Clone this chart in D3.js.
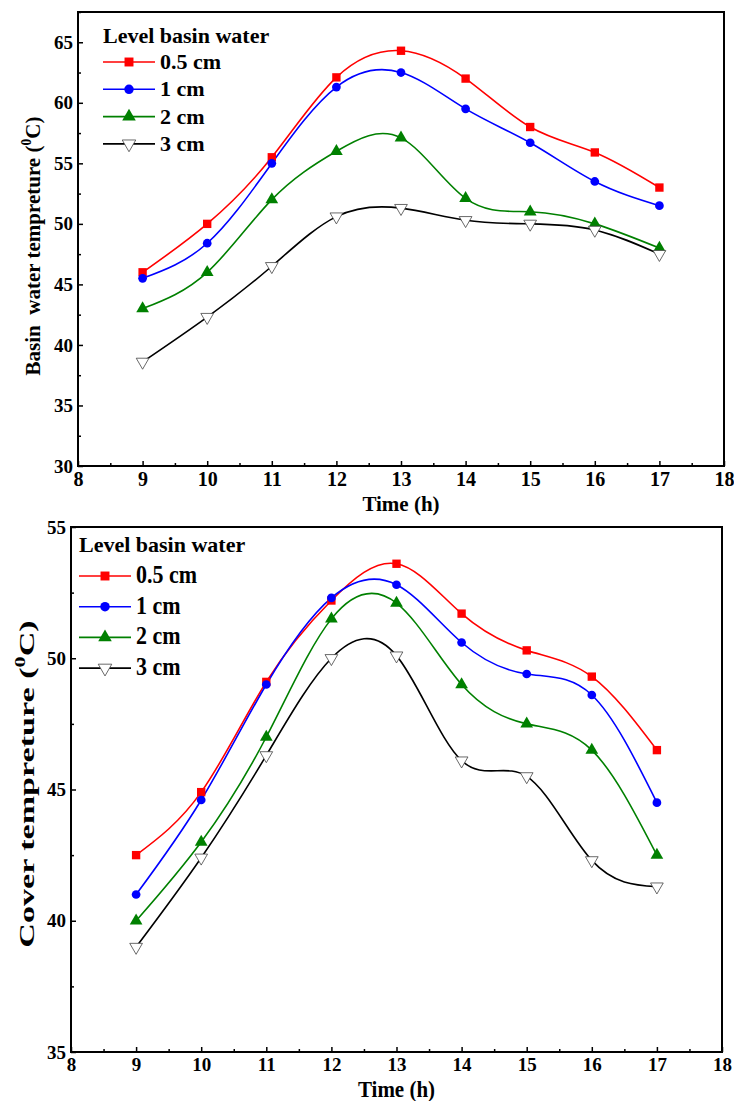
<!DOCTYPE html>
<html>
<head>
<meta charset="utf-8">
<script src="https://cdn.jsdelivr.net/npm/d3@7"></script>
<style>
  body { margin: 0; background: #fff; }
  text { font-family: "Liberation Serif", "Times New Roman", serif; font-weight: bold; }
</style>
</head>
<body>
<script>
// Basin water / cover temperature vs time, two stacked panels

const hours = [9, 10, 11, 12, 13, 14, 15, 16, 17];
const seriesNames = ["0.5 cm", "1 cm", "2 cm", "3 cm"];

// top panel: basin water temperature
const basin05 = [46.0, 50.0, 55.5, 62.1, 64.3, 62.0, 58.0, 55.9, 53.0];
const basin1  = [45.5, 48.4, 55.0, 61.3, 62.5, 59.5, 56.7, 53.5, 51.5];
const basin2  = [43.0, 46.0, 52.0, 56.0, 57.1, 52.1, 51.0, 50.0, 48.0];
const basin3  = [38.6, 42.3, 46.5, 50.6, 51.3, 50.3, 50.0, 49.5, 47.5];

// bottom panel: cover temperature
const cover05 = [42.5, 44.9, 49.1, 52.2, 53.6, 51.7, 50.3, 49.3, 46.5];
const cover1  = [41.0, 44.6, 49.0, 52.3, 52.8, 50.6, 49.4, 48.6, 44.5];
const cover2  = [40.0, 43.0, 47.0, 51.5, 52.1, 49.0, 47.5, 46.5, 42.5];
const cover3  = [39.0, 42.4, 46.3, 50.0, 50.1, 46.1, 45.5, 42.3, 41.3];

const xTicks = [8, 9, 10, 11, 12, 13, 14, 15, 16, 17, 18];
const basinYTicks = [30, 35, 40, 45, 50, 55, 60, 65];
const coverYTicks = [35, 40, 45, 50, 55];

const colors = ["#ff0000", "#0000ff", "#008000", "#000000"];
const symbols = [d3.symbolSquare, d3.symbolCircle, d3.symbolTriangle, d3.symbolTriangle];

const svg = d3.select("body")
  .append("svg")
  .attr("width", 734)
  .attr("height", 1101);

svg.append("rect").attr("width", 734).attr("height", 1101).attr("fill", "#fff");

function marker(sel, i, size) {
  sel.append("path")
    .attr("d", d3.symbol().type(symbols[i]).size(size)())
    .attr("fill", i === 3 ? "#fff" : colors[i])
    .attr("stroke", i === 3 ? "#444" : "none")
    .attr("stroke-width", 0.8)
    .attr("transform", i === 3 ? "rotate(180)" : null);
}

function drawPanel(p) {
  const g = svg.append("g");

  const x = d3.scaleLinear().domain([8, 18]).range([p.left, p.right]);
  const y = d3.scaleLinear().domain(p.yDomain).range([p.bottom, p.top]);

  // minor ticks
  g.append("g")
    .attr("transform", `translate(0,${p.bottom})`)
    .call(d3.axisBottom(x).tickValues(d3.range(8.5, 18, 1)).tickSize(-3).tickFormat(""))
    .call(a => a.select(".domain").remove());
  g.append("g")
    .attr("transform", `translate(${p.left},0)`)
    .call(d3.axisLeft(y).tickValues(p.yMinor).tickSize(-3).tickFormat(""))
    .call(a => a.select(".domain").remove());

  const xa = g.append("g")
    .attr("transform", `translate(0,${p.bottom})`)
    .call(d3.axisBottom(x).tickValues(xTicks).tickSize(-5).tickPadding(6));
  xa.select(".domain").remove();
  xa.selectAll("text").attr("font-size", p.xTickSize).attr("fill", "#000");

  const ya = g.append("g")
    .attr("transform", `translate(${p.left},0)`)
    .call(d3.axisLeft(y).tickValues(p.yTicks).tickSize(-5).tickPadding(5));
  ya.select(".domain").remove();
  ya.selectAll("text").attr("font-size", p.yTickSize).attr("fill", "#000");

  g.selectAll(".tick line").attr("stroke", "#000").attr("stroke-width", 1.5);

  g.append("rect")
    .attr("x", p.left).attr("y", p.top)
    .attr("width", p.right - p.left).attr("height", p.bottom - p.top)
    .attr("fill", "none").attr("stroke", "#000").attr("stroke-width", 2);

  const line = d3.line()
    .x((d, i) => x(hours[i]))
    .y(d => y(d))
    .curve(d3.curveNatural);

  p.series.forEach((s, i) => {
    g.append("path")
      .datum(s)
      .attr("d", line)
      .attr("fill", "none")
      .attr("stroke", colors[i])
      .attr("stroke-width", 1.6);
  });
  p.series.forEach((s, i) => {
    g.selectAll(null)
      .data(s)
      .enter()
      .append("g")
      .attr("transform", (d, j) => `translate(${x(hours[j])},${y(d)})`)
      .each(function() { marker(d3.select(this), i, i === 1 ? 60 : 70); });
  });

  // axis titles
  g.append("text")
    .attr("transform", `translate(${(p.left + p.right) / 2},${p.xTitleY}) scale(1,${p.xTitleScale})`)
    .attr("text-anchor", "middle")
    .attr("font-size", 21)
    .text("Time (h)");

  const yt = g.append("text")
    .attr("transform", `translate(${p.yTitleX},${p.yTitleMid}) rotate(-90) scale(${p.yTitleScale},1)`)
    .attr("text-anchor", "middle")
    .attr("font-size", p.yTitleSize)
    .style("white-space", "pre");
  yt.append("tspan").text(p.yTitle + " (");
  yt.append("tspan").attr("dy", -9).attr("font-size", p.yTitleSize * 0.65).text("0");
  yt.append("tspan").attr("dy", 9).text("C)");

  // legend
  const lg = g.append("g").attr("transform", `translate(${p.legX},${p.legY})`);
  lg.append("text").attr("x", 0).attr("y", 0).attr("font-size", 22).text("Level basin water");
  const item = lg.selectAll(".legend-item")
    .data(seriesNames)
    .enter()
    .append("g")
    .attr("class", "legend-item")
    .attr("transform", (d, i) => `translate(0,${p.legRow0 + i * p.legStep})`);
  item.append("line")
    .attr("x1", 0).attr("x2", 52)
    .attr("stroke", (d, i) => colors[i])
    .attr("stroke-width", 1.6);
  item.each(function(d, i) {
    const m = d3.select(this).append("g").attr("transform", "translate(26,0)");
    marker(m, i, i === 1 ? 70 : 80);
  });
  item.append("text")
    .attr("transform", `translate(57,7) scale(1,${p.legTextScale})`)
    .attr("font-size", 22)
    .text(d => d);
}

drawPanel({
  left: 78, right: 724, top: 12, bottom: 466,
  yDomain: [30, 67.5],
  yTicks: basinYTicks,
  yMinor: d3.range(32.5, 68, 5),
  series: [basin05, basin1, basin2, basin3],
  xTickSize: 20, yTickSize: 19,
  xTitleY: 511, xTitleScale: 1,
  yTitle: "Basin  water tempreture",
  yTitleX: 40, yTitleMid: 246, yTitleSize: 21, yTitleScale: 1,
  legX: 103, legY: 43, legRow0: 19, legStep: 27.3, legTextScale: 1
});

drawPanel({
  left: 71, right: 722, top: 527, bottom: 1052,
  yDomain: [35, 55],
  yTicks: coverYTicks,
  yMinor: d3.range(37.5, 55, 5),
  series: [cover05, cover1, cover2, cover3],
  xTickSize: 19, yTickSize: 19,
  xTitleY: 1097, xTitleScale: 1.08,
  yTitle: "Cover tempreture",
  yTitleX: 34, yTitleMid: 784, yTitleSize: 22, yTitleScale: 1.55,
  legX: 79, legY: 552, legRow0: 24, legStep: 30.7, legTextScale: 1.12
});
</script>
</body>
</html>
